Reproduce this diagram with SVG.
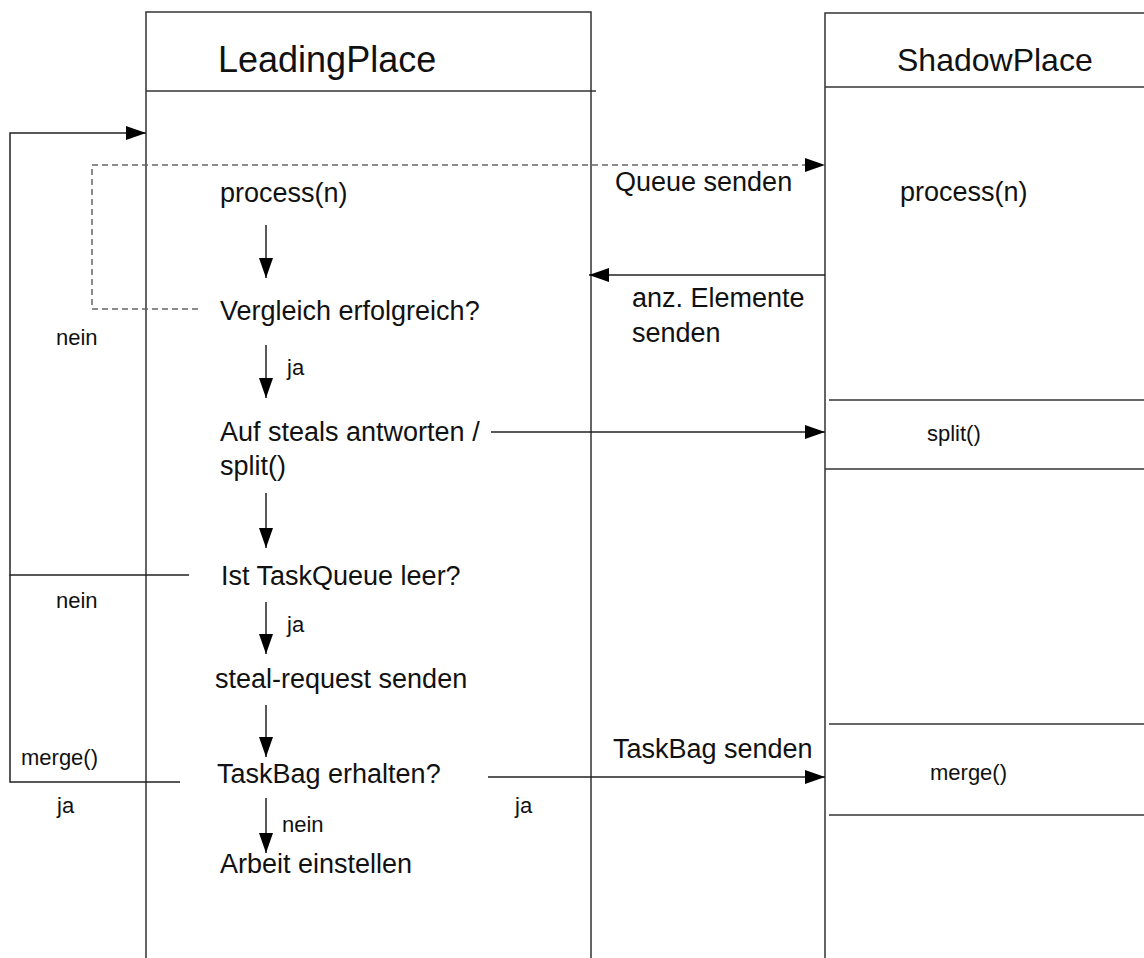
<svg xmlns="http://www.w3.org/2000/svg" width="1144" height="958" viewBox="0 0 1144 958">
<defs>
<marker id="ah" markerWidth="20" markerHeight="14" refX="20" refY="7" orient="auto" markerUnits="userSpaceOnUse">
<path d="M0,0 L20,7 L0,14 Z" fill="#000"/>
</marker>
<style>
.box{fill:none;stroke:#333;stroke-width:1.5}
.ln{fill:none;stroke:#333;stroke-width:1.5}
.con{fill:none;stroke:#222;stroke-width:1.5}
.dash{fill:none;stroke:#666;stroke-width:1.5;stroke-dasharray:6 4}
.hdr{font-family:"Liberation Sans",Arial,sans-serif;fill:#111}
.t{font-family:"Liberation Sans",Arial,sans-serif;font-size:27px;fill:#111}
.s{font-family:"Liberation Sans",Arial,sans-serif;font-size:22px;fill:#111}
</style>
</defs>
<rect width="1144" height="958" fill="#fff"/>
<g id="leading">
<path class="box" d="M146,965 L146,12 L591,12 L591,965"/>
<line class="ln" x1="146" y1="91" x2="596" y2="91"/>
<text class="hdr" x="218" y="72" font-size="36">LeadingPlace</text>
<text class="t" x="220" y="202">process(n)</text>
<text class="t" x="220" y="320">Vergleich erfolgreich?</text>
<text class="t" x="220" y="441">Auf steals antworten /</text>
<text class="t" x="220" y="475">split()</text>
<text class="t" x="221" y="585">Ist TaskQueue leer?</text>
<text class="t" x="215" y="688">steal-request senden</text>
<text class="t" x="217" y="783">TaskBag erhalten?</text>
<text class="t" x="220" y="873">Arbeit einstellen</text>
</g>
<g id="shadow">
<path class="box" d="M825,965 L825,13 L1150,13"/>
<line class="ln" x1="825" y1="87" x2="1150" y2="87"/>
<text class="hdr" x="897" y="71" font-size="32">ShadowPlace</text>
<text class="t" x="900" y="201">process(n)</text>
<line class="ln" x1="829" y1="400" x2="1150" y2="400"/>
<line class="ln" x1="825" y1="469" x2="1150" y2="469"/>
<text class="s" x="927" y="441">split()</text>
<line class="ln" x1="829" y1="724" x2="1150" y2="724"/>
<line class="ln" x1="829" y1="815" x2="1150" y2="815"/>
<text class="s" x="930" y="780">merge()</text>
</g>
<g id="connectors">
<line class="con" x1="266" y1="225" x2="266" y2="278" marker-end="url(#ah)"/>
<line class="con" x1="266" y1="345" x2="266" y2="398" marker-end="url(#ah)"/>
<line class="con" x1="266" y1="493" x2="266" y2="548" marker-end="url(#ah)"/>
<line class="con" x1="266" y1="602" x2="266" y2="654" marker-end="url(#ah)"/>
<line class="con" x1="266" y1="705" x2="266" y2="757" marker-end="url(#ah)"/>
<line class="con" x1="266" y1="798" x2="266" y2="853" marker-end="url(#ah)"/>
<path class="dash" d="M198,309 L92,309 L92,165 L806,165"/>
<path d="M805,158 L825,165 L805,172 Z" fill="#000"/>
<path class="con" d="M189,575 L10,575 L10,133 L146,133" marker-end="url(#ah)"/>
<path class="con" d="M180,782 L10,782 L10,575"/>
<line class="con" x1="491" y1="432" x2="825" y2="432" marker-end="url(#ah)"/>
<line class="con" x1="825" y1="275" x2="589" y2="275" marker-end="url(#ah)"/>
<line class="con" x1="488" y1="777" x2="825" y2="777" marker-end="url(#ah)"/>
</g>
<g id="labels">
<text class="t" x="615" y="191">Queue senden</text>
<text class="t" x="632" y="307">anz. Elemente</text>
<text class="t" x="632" y="342">senden</text>
<text class="t" x="613" y="758">TaskBag senden</text>
<text class="s" x="56" y="345">nein</text>
<text class="s" x="287" y="375">ja</text>
<text class="s" x="56" y="608">nein</text>
<text class="s" x="287" y="632">ja</text>
<text class="s" x="21" y="765">merge()</text>
<text class="s" x="57" y="813">ja</text>
<text class="s" x="282" y="832">nein</text>
<text class="s" x="515" y="813">ja</text>
</g>
</svg>
